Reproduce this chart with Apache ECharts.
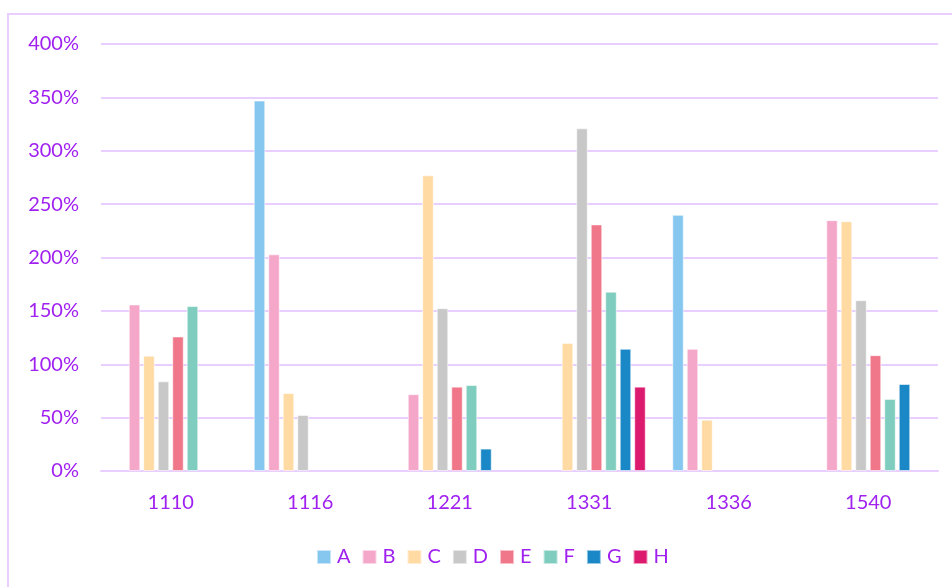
<!DOCTYPE html>
<html>
<head>
<meta charset="utf-8">
<title>Bar chart</title>
<script src="https://cdn.jsdelivr.net/npm/echarts@6/dist/echarts.min.js"></script>
<style>
  html, body { margin: 0; padding: 0; background: #fff; }
  #chart { width: 952px; height: 587px; }
</style>
</head>
<body>
<div id="chart"></div>
<script>
// Category labels on the x axis
const categories = ['1110', '1116', '1221', '1331', '1336', '1540'];

// Values per series, in percent (null = no bar)
const seriesA = [null, 347, null, null, 240, null];
const seriesB = [156, 203, 72, null, 114.5, 235];
const seriesC = [108, 73, 277, 120, 48, 234];
const seriesD = [84, 52.5, 152.5, 321, null, 160];
const seriesE = [126, null, 79, 231, null, 108.5];
const seriesF = [154.5, null, 80.5, 168, null, 67.5];
const seriesG = [null, null, 21, 114.5, null, 81.5];
const seriesH = [null, null, null, 79, null, null];

const seriesNames = ['A', 'B', 'C', 'D', 'E', 'F', 'G', 'H'];
const seriesValues = [seriesA, seriesB, seriesC, seriesD, seriesE, seriesF, seriesG, seriesH];
const seriesColors = ['#85C7EF', '#F5A7CA', '#FFDAA3', '#C8C8C8', '#F07689', '#7ECDBE', '#1A88C7', '#DC1A6E'];

// Y axis range and step
const yMin = 0, yMax = 400, yStep = 50;

const labelColor = '#A020F0';
const lineColor = '#E8CFFF';
const fontFamily = 'Lato, "Open Sans", sans-serif';

const chart = echarts.init(document.getElementById('chart'), null, { renderer: 'canvas' });

chart.setOption({
  animation: false,
  backgroundColor: '#ffffff',
  color: seriesColors,
  graphic: [{
    type: 'rect',
    shape: { x: 8, y: 14, width: 1200, height: 1200 },
    style: { fill: 'none', stroke: lineColor, lineWidth: 2 },
    silent: true,
    z: -1
  }],
  grid: { left: 101, right: 14, top: 44, bottom: 116, containLabel: false },
  legend: {
    data: seriesNames,
    left: 311,
    top: 542,
    itemWidth: 14,
    itemHeight: 14,
    itemGap: 11,
    icon: 'rect',
    textStyle: { color: labelColor, fontSize: 20, fontFamily: fontFamily, padding: [0, 0, 0, 1] }
  },
  xAxis: {
    type: 'category',
    data: categories,
    axisLine: { show: true, lineStyle: { color: lineColor, width: 2 } },
    axisTick: { show: false },
    axisLabel: { color: labelColor, fontSize: 20, fontFamily: fontFamily, margin: 22 }
  },
  yAxis: {
    type: 'value',
    min: yMin,
    max: yMax,
    interval: yStep,
    axisLine: { show: false },
    axisTick: { show: false },
    splitLine: { show: true, lineStyle: { color: lineColor, width: 2 } },
    axisLabel: {
      color: labelColor,
      fontSize: 20,
      fontFamily: fontFamily,
      margin: 22,
      formatter: v => v + '%'
    }
  },
  series: seriesNames.map((name, i) => ({
    name: name,
    type: 'bar',
    data: seriesValues[i],
    barGap: '26%',
    barCategoryGap: '19%',
    itemStyle: { color: seriesColors[i], borderColor: 'rgba(255,255,255,0.55)', borderWidth: 1 }
  }))
});
</script>
</body>
</html>
